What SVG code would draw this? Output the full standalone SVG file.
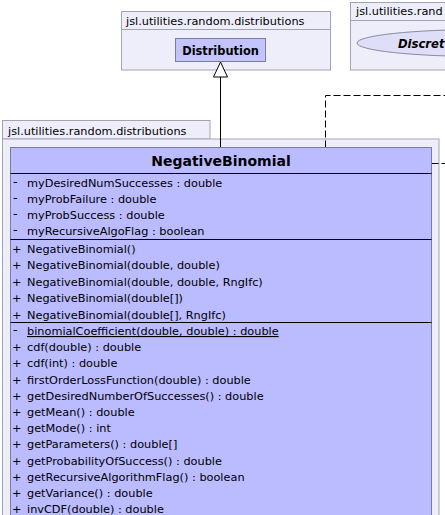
<svg xmlns="http://www.w3.org/2000/svg" width="445" height="515" viewBox="0 0 445 515">
  <style>
    .pkg { fill: #eeeefa; stroke: #a3a3b8; stroke-width: 1; }
    .cls { fill: #bbbbff; stroke: #7c7ca0; stroke-width: 1; }
    .ifc { fill: #dedef8; stroke: #8a8aa2; stroke-width: 1; }
    .sep { stroke: #000000; stroke-width: 1; }
    .lbl { font-family: "DejaVu Sans", sans-serif; font-size: 11.3px; fill: #000000; }
    .mem { font-family: "DejaVu Sans", sans-serif; font-size: 11.3px; fill: #000000; }
    .vis { font-size: 12.5px; }
    .name { font-family: "DejaVu Sans", sans-serif; font-size: 14px; font-weight: bold; fill: #000000; }
    .sname { font-family: "DejaVu Sans", sans-serif; font-size: 11.4px; font-weight: bold; fill: #000000; }
    .iname { font-family: "DejaVu Sans", sans-serif; font-size: 11.6px; font-weight: bold; font-style: italic; fill: #000000; }
    .solid { fill: none; stroke: #000000; stroke-width: 1; }
    .dash { fill: none; stroke: #000000; stroke-width: 1; stroke-dasharray: 7 3; }
    .ul { text-decoration: underline; }
  </style>
  <defs>
    <!-- hollow triangle for generalization, tip at the line end -->
    <marker id="gen" viewBox="0 0 16 16" refX="15.5" refY="8" markerWidth="16" markerHeight="16" markerUnits="userSpaceOnUse" orient="auto">
      <path d="M15.5 8 L0.5 1 L0.5 15 Z" fill="#ffffff" stroke="#000000" stroke-width="1"/>
    </marker>
  </defs>

  <!-- package: jsl.utilities.random.distributions (top) -->
  <g id="pkg-top">
    <rect class="pkg" x="121.5" y="11.5" width="209" height="58.5"/>
    <line x1="121.5" y1="29.5" x2="330.5" y2="29.5" stroke="#a3a3b8"/>
    <text class="lbl" x="126" y="24.5">jsl.utilities.random.distributions</text>
  </g>

  <!-- package: jsl.utilities.random (right, runs past the edge) -->
  <g id="pkg-right">
    <rect class="pkg" x="350.5" y="2.5" width="120" height="67.5"/>
    <line x1="350.5" y1="20.5" x2="470" y2="20.5" stroke="#a3a3b8"/>
    <text class="lbl" x="356" y="15">jsl.utilities.rand</text>
  </g>

  <!-- class Distribution -->
  <g id="Distribution">
    <rect x="175.5" y="38.5" width="90" height="23" fill="#c4c4fc" stroke="#7c7ca0"/>
    <text class="sname" x="220.5" y="54.5" text-anchor="middle">Distribution</text>
  </g>

  <!-- interface ellipse (runs past the edge) -->
  <g id="DiscreteIfc">
    <ellipse class="ifc" cx="482" cy="43" rx="125" ry="13.5"/>
    <text class="iname" x="398" y="47.5">Discret</text>
  </g>

  <!-- package: jsl.utilities.random.distributions (bottom) -->
  <g id="pkg-bottom">
    <rect class="pkg" x="2.5" y="120.5" width="207.5" height="18.5"/>
    <rect class="pkg" x="2.5" y="139" width="436.5" height="390"/>
    <text class="lbl" x="8" y="134.5">jsl.utilities.random.distributions</text>
  </g>

  <!-- connectors -->
  <g id="connectors">
    <line class="solid" x1="220.5" y1="147.5" x2="220.5" y2="62" marker-end="url(#gen)"/>
    <polyline class="dash" points="325.5,147.5 325.5,95.5 445,95.5"/>
    <line class="dash" x1="431.5" y1="163.5" x2="445" y2="163.5"/>
  </g>

  <!-- class NegativeBinomial -->
  <g id="NegativeBinomial">
    <rect class="cls" x="10.5" y="147.5" width="421" height="380"/>
    <text class="name" x="221" y="166" text-anchor="middle">NegativeBinomial</text>
    <line class="sep" x1="10.5" y1="173.5" x2="431.5" y2="173.5"/>

    <g class="mem">
      <text class="vis" x="13" y="186">-</text><text x="27" y="187">myDesiredNumSuccesses : double</text>
      <text class="vis" x="13" y="202">-</text><text x="27" y="203">myProbFailure : double</text>
      <text class="vis" x="13" y="218">-</text><text x="27" y="219">myProbSuccess : double</text>
      <text class="vis" x="13" y="234">-</text><text x="27" y="235">myRecursiveAlgoFlag : boolean</text>
    </g>
    <line class="sep" x1="10.5" y1="239.5" x2="431.5" y2="239.5"/>

    <g class="mem">
      <text x="12" y="252.5">+</text><text x="27" y="252.5">NegativeBinomial()</text>
      <text x="12" y="269">+</text><text x="27" y="269">NegativeBinomial(double, double)</text>
      <text x="12" y="285.5">+</text><text x="27" y="285.5">NegativeBinomial(double, double, RngIfc)</text>
      <text x="12" y="302">+</text><text x="27" y="302">NegativeBinomial(double[])</text>
      <text x="12" y="318.5">+</text><text x="27" y="318.5">NegativeBinomial(double[], RngIfc)</text>
    </g>
    <line class="sep" x1="10.5" y1="322.5" x2="431.5" y2="322.5"/>

    <g class="mem">
      <text class="vis" x="13" y="334">-</text><text class="ul" x="27" y="335">binomialCoefficient(double, double) : double</text>
      <text x="12" y="351.2">+</text><text x="27" y="351.2">cdf(double) : double</text>
      <text x="12" y="367.4">+</text><text x="27" y="367.4">cdf(int) : double</text>
      <text x="12" y="383.6">+</text><text x="27" y="383.6">firstOrderLossFunction(double) : double</text>
      <text x="12" y="399.8">+</text><text x="27" y="399.8">getDesiredNumberOfSuccesses() : double</text>
      <text x="12" y="416">+</text><text x="27" y="416">getMean() : double</text>
      <text x="12" y="432.2">+</text><text x="27" y="432.2">getMode() : int</text>
      <text x="12" y="448.4">+</text><text x="27" y="448.4">getParameters() : double[]</text>
      <text x="12" y="464.6">+</text><text x="27" y="464.6">getProbabilityOfSuccess() : double</text>
      <text x="12" y="480.8">+</text><text x="27" y="480.8">getRecursiveAlgorithmFlag() : boolean</text>
      <text x="12" y="497">+</text><text x="27" y="497">getVariance() : double</text>
      <text x="12" y="513.2">+</text><text x="27" y="513.2">invCDF(double) : double</text>
    </g>
  </g>
</svg>
